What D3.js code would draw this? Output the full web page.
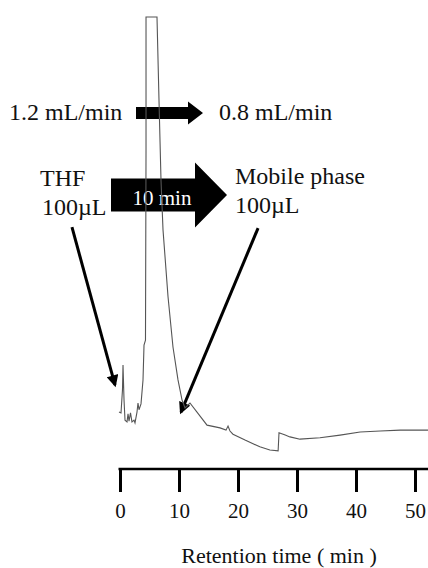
<!DOCTYPE html>
<html>
<head>
<meta charset="utf-8">
<script src="https://cdn.jsdelivr.net/npm/d3@7"></script>
<style>
  body { margin: 0; background: #fff; }
</style>
</head>
<body>
<div id="chart"></div>
<script>
// chromatogram: retention time (min) and detector signal (arbitrary units)
const time = [-0.17, 0.17, 0.42, 0.51, 0.68, 0.85, 1.19, 1.36, 1.53, 1.78, 2.03, 2.37, 2.54, 2.88, 3.05, 3.22, 3.56, 3.9, 4.07, 4.32, 4.41, 4.41,
  6.27, 6.61, 6.95, 7.29, 8.14, 8.98, 9.83, 10.51, 11.02, 11.86, 13.05, 14.75, 16.95, 17.97, 18.31, 18.64, 19.15, 21.19, 23.7, 25.4, 26.8,
  26.95, 28.0, 28.8, 30.5, 33.9, 37.3, 40.7, 44.1, 47.5, 52.2];
const signal = [12.6, 12.4, 17.5, 23.0, 15.3, 10.8, 10.4, 12.2, 10.6, 12.4, 10.4, 10.8, 10.2, 12.6, 14.6, 13.1, 14.4, 19.7, 27.4, 28.5, 70.6, 100,
  100, 81.6, 63.9, 52.9, 38.1, 27.0, 19.7, 15.3, 13.5, 14.6, 12.6, 9.7, 9.1, 8.6, 9.5, 8.4, 7.7, 6.4, 4.9, 4.2, 4.0,
  8.0, 7.5, 7.1, 6.6, 6.9, 7.5, 8.2, 8.4, 8.6, 8.6];
const xTicks = [0, 10, 20, 30, 40, 50];

const width = 428, height = 568;
const serif = '"Liberation Serif", "Times New Roman", Times, serif';

const svg = d3.select("#chart")
  .append("svg")
    .attr("width", width)
    .attr("height", height);

const x = d3.scaleLinear().domain([0, 50]).range([120, 415]);
const y = d3.scaleLinear().domain([0, 100]).range([469, 17]);

// block arrows for the flow change
function blockArrow(x0, x1, x2, yc, bodyH, headH) {
  return `M${x0},${yc - bodyH / 2} L${x1},${yc - bodyH / 2} L${x1},${yc - headH / 2} L${x2},${yc}
          L${x1},${yc + headH / 2} L${x1},${yc + bodyH / 2} L${x0},${yc + bodyH / 2} Z`;
}
svg.append("path").attr("d", blockArrow(136, 188, 203, 113, 12, 23)).attr("fill", "#000");
svg.append("path").attr("d", blockArrow(111, 195, 227, 195, 33, 65)).attr("fill", "#000");

function label(px, py, size, txt) {
  return svg.append("text")
    .attr("x", px).attr("y", py)
    .style("font-family", serif)
    .style("font-size", size + "px")
    .style("fill", "#111")
    .text(txt);
}
label(9, 120, 24, "1.2 mL/min");
label(219, 120, 24, "0.8 mL/min");
label(40, 186, 24, "THF");
label(42, 215, 24, "100µL");
label(235, 184, 24, "Mobile phase");
label(235, 213, 24, "100µL");
label(162, 205, 21, "10 min").attr("text-anchor", "middle").style("fill", "#fff");

// pointer arrows (in data units)
svg.append("defs").append("marker")
    .attr("id", "head")
    .attr("viewBox", "0 0 10 10")
    .attr("refX", 8).attr("refY", 5)
    .attr("markerWidth", 4.5).attr("markerHeight", 4)
    .attr("orient", "auto")
  .append("path")
    .attr("d", "M0,0 L10,5 L0,10 Z")
    .attr("fill", "#000");

const pointers = [
  {from: [-8.14, 53.5], to: [-0.85, 18.6]},
  {from: [23.4, 53.3], to: [10.34, 12.6]}
];
svg.selectAll(".pointer")
  .data(pointers)
  .enter()
  .append("line")
    .attr("class", "pointer")
    .attr("x1", d => x(d.from[0]))
    .attr("y1", d => y(d.from[1]))
    .attr("x2", d => x(d.to[0]))
    .attr("y2", d => y(d.to[1]))
    .attr("stroke", "#000")
    .attr("stroke-width", 3)
    .attr("marker-end", "url(#head)");

// the trace
const data = time.map((t, i) => ({t: t, v: signal[i]}));
svg.append("path")
  .datum(data)
  .attr("d", d3.line().x(d => x(d.t)).y(d => y(d.v)))
  .attr("fill", "none")
  .attr("stroke", "#555")
  .attr("stroke-width", 1.1);

// x axis
const axis = svg.append("g")
  .attr("transform", `translate(0, ${y(0)})`)
  .call(d3.axisBottom(x).tickValues(xTicks).tickSize(23).tickSizeOuter(0).tickPadding(11));
axis.select(".domain").remove();
axis.selectAll(".tick line").attr("stroke", "#000").attr("stroke-width", 3);
axis.selectAll(".tick text")
  .style("font-family", serif)
  .style("font-size", "21px")
  .attr("fill", "#111");
axis.append("line")
  .attr("x1", x(0) - 1.5).attr("x2", width)
  .attr("stroke", "#000").attr("stroke-width", 2.5);

label(279, 563, 22, "Retention time ( min )").attr("text-anchor", "middle");
</script>
</body>
</html>
